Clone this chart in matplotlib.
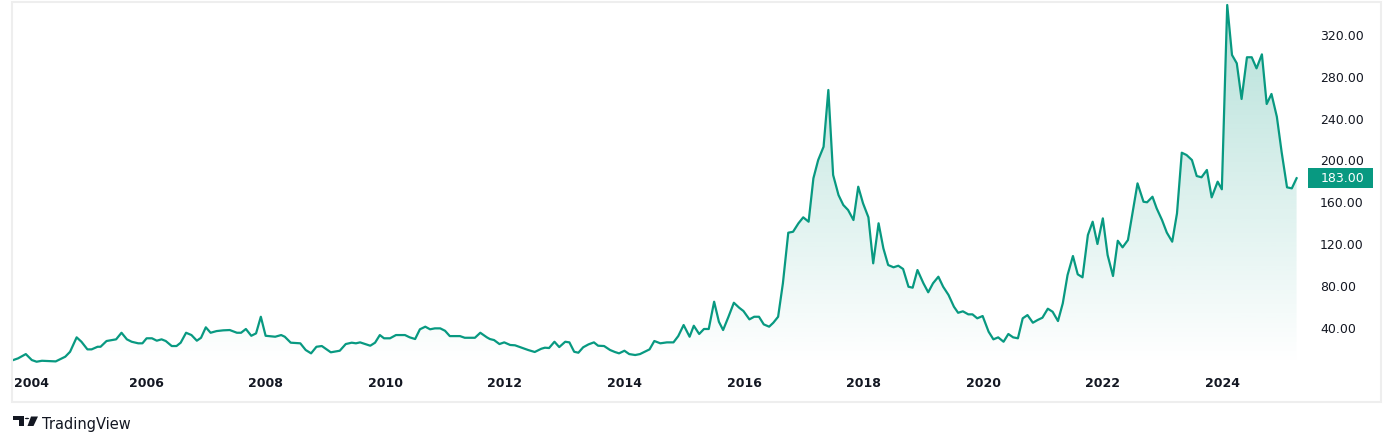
import numpy as np
import matplotlib.pyplot as plt
from matplotlib.patches import Rectangle, Polygon, Circle
from matplotlib.transforms import blended_transform_factory, ScaledTranslation

# price series (decimal year, value)
dates = [
    2003.78, 2003.86, 2003.99, 2004.09, 2004.17, 2004.26, 2004.49, 2004.65, 2004.73, 2004.84,
    2004.92, 2005.02, 2005.09, 2005.19, 2005.24, 2005.34, 2005.50, 2005.59, 2005.68, 2005.76,
    2005.87, 2005.94, 2006.01, 2006.10, 2006.18, 2006.26, 2006.33, 2006.43, 2006.51, 2006.58,
    2006.67, 2006.76, 2006.85, 2006.92, 2007.00, 2007.08, 2007.18, 2007.29, 2007.40, 2007.52,
    2007.59, 2007.67, 2007.76, 2007.84, 2007.92, 2008.00, 2008.16, 2008.26, 2008.32, 2008.42,
    2008.58, 2008.67, 2008.76, 2008.85, 2008.94, 2009.09, 2009.24, 2009.34, 2009.44, 2009.51,
    2009.58, 2009.75, 2009.83, 2009.91, 2009.98, 2010.08, 2010.18, 2010.33, 2010.41, 2010.50,
    2010.58, 2010.67, 2010.75, 2010.83, 2010.92, 2011.00, 2011.08, 2011.25, 2011.33, 2011.50,
    2011.59, 2011.70, 2011.75, 2011.82, 2011.91, 2011.99, 2012.09, 2012.17, 2012.28, 2012.39,
    2012.50, 2012.61, 2012.67, 2012.74, 2012.83, 2012.91, 2013.01, 2013.08, 2013.16, 2013.23,
    2013.31, 2013.40, 2013.49, 2013.56, 2013.66, 2013.76, 2013.84, 2013.91, 2014.00, 2014.08,
    2014.18, 2014.26, 2014.34, 2014.42, 2014.50, 2014.60, 2014.71, 2014.82, 2014.90, 2014.99,
    2015.09, 2015.16, 2015.25, 2015.33, 2015.41, 2015.50, 2015.58, 2015.65, 2015.74, 2015.83,
    2015.92, 2015.99, 2016.09, 2016.17, 2016.25, 2016.33, 2016.42, 2016.49, 2016.57, 2016.65,
    2016.74, 2016.82, 2016.91, 2016.99, 2017.08, 2017.16, 2017.24, 2017.33, 2017.41, 2017.49,
    2017.58, 2017.66, 2017.74, 2017.83, 2017.91, 2017.99, 2018.08, 2018.16, 2018.25, 2018.33,
    2018.41, 2018.50, 2018.58, 2018.66, 2018.75, 2018.82, 2018.90, 2019.00, 2019.08, 2019.16,
    2019.25, 2019.33, 2019.42, 2019.51, 2019.58, 2019.66, 2019.75, 2019.82, 2019.90, 2019.99,
    2020.09, 2020.17, 2020.25, 2020.34, 2020.42, 2020.50, 2020.58, 2020.66, 2020.74, 2020.83,
    2020.91, 2020.99, 2021.08, 2021.16, 2021.25, 2021.33, 2021.41, 2021.50, 2021.58, 2021.66,
    2021.75, 2021.83, 2021.91, 2022.00, 2022.08, 2022.17, 2022.25, 2022.33, 2022.42, 2022.50,
    2022.58, 2022.68, 2022.74, 2022.83, 2022.90, 2022.99, 2023.07, 2023.16, 2023.24, 2023.32,
    2023.40, 2023.49, 2023.57, 2023.65, 2023.74, 2023.82, 2023.92, 2023.99, 2024.08, 2024.16,
    2024.24, 2024.32, 2024.41, 2024.49, 2024.57, 2024.66, 2024.74, 2024.82, 2024.91, 2024.99,
    2025.08, 2025.16, 2025.24,
]
values = [
    9.1, 10.7, 14.8, 9.1, 7.5, 8.4, 7.8, 12.3, 17.0, 30.8,
    26.6, 19.3, 19.3, 21.8, 21.8, 27.3, 28.9, 35.2, 28.9, 26.6,
    25.1, 25.1, 29.9, 29.9, 27.6, 28.9, 27.3, 22.5, 22.5, 25.7,
    35.2, 33.0, 27.6, 30.4, 40.4, 35.2, 36.8, 37.5, 37.8, 35.2,
    35.2, 38.8, 32.3, 34.6, 50.5, 32.3, 31.4, 33.0, 31.4, 25.7,
    25.1, 18.7, 15.5, 21.8, 22.5, 16.5, 18.0, 24.4, 25.7, 25.1,
    26.0, 22.8, 25.7, 33.0, 29.9, 29.9, 33.0, 33.0, 30.8, 29.2,
    38.5, 41.0, 38.5, 39.4, 39.4, 37.1, 32.0, 32.0, 30.4, 30.4,
    35.2, 30.8, 29.2, 28.2, 24.4, 26.0, 23.5, 23.2, 20.9, 18.7,
    16.8, 19.9, 20.9, 20.6, 26.6, 21.5, 26.6, 26.0, 17.0, 16.1,
    21.3, 24.1, 26.0, 22.8, 22.5, 18.7, 16.8, 15.5, 18.0, 14.8,
    13.9, 14.8, 17.0, 19.3, 27.3, 25.1, 26.0, 26.0, 32.0, 42.6,
    31.4, 41.9, 34.0, 38.8, 38.8, 64.9, 45.7, 37.8, 50.5, 63.9,
    59.1, 56.0, 48.0, 50.5, 50.5, 43.2, 41.0, 44.8, 50.5, 82.5,
    130.9, 131.8, 139.9, 145.6, 141.4, 182.9, 200.4, 213.1, 267.4, 186.1,
    166.9, 157.4, 152.6, 143.0, 174.9, 159.0, 145.6, 101.6, 139.9, 116.0,
    100.0, 97.8, 99.3, 96.2, 79.2, 78.3, 95.2, 82.5, 73.9, 82.5,
    88.8, 79.2, 71.3, 60.1, 54.3, 55.7, 52.8, 52.8, 49.0, 51.2,
    36.2, 28.9, 30.8, 26.6, 34.0, 30.8, 29.9, 49.0, 52.1, 44.8,
    47.4, 49.6, 58.2, 55.3, 46.4, 63.3, 90.4, 108.6, 91.1, 88.2,
    128.7, 141.4, 120.1, 144.6, 109.5, 89.5, 123.2, 116.9, 123.9, 151.0,
    178.1, 160.5, 160.0, 165.3, 154.2, 143.0, 131.0, 122.3, 149.4, 207.4,
    205.2, 200.4, 185.1, 183.9, 190.9, 164.7, 179.7, 172.4, 348.7, 300.9,
    292.9, 258.8, 298.7, 298.7, 288.1, 301.5, 254.0, 263.6, 241.8, 208.0,
    174.3, 173.3, 183.0,
]
price_ticks = [40, 80, 120, 160, 200, 240, 280, 320]
year_ticks = [2004, 2006, 2008, 2010, 2012, 2014, 2016, 2018, 2020, 2022, 2024]
last_price = 183.00

GREEN = "#089981"
TEXT = "#131722"
W, H = 1394, 446

fig = plt.figure(figsize=(W / 100, H / 100), dpi=100)
fig.patch.set_facecolor("white")


def px(x, y):
    # pixel position -> figure fraction
    return x / W, 1 - y / H


# outer frame
x0, y0 = px(12, 402)
x1, y1 = px(1381, 2)
fig.add_artist(Rectangle((x0, y0), x1 - x0, y1 - y0, transform=fig.transFigure,
                         fill=False, edgecolor="#eeeeee", linewidth=1.5))

left, bottom = px(12, 366)
right, top = px(1300, 3)
ax = fig.add_axes([left, bottom, right - left, top - bottom])
for s in ax.spines.values():
    s.set_visible(False)

# line + gradient area
ax.plot(dates, values, color=GREEN, linewidth=1.6, solid_joinstyle="round", zorder=3)
poly = ax.fill_between(dates, values, 3.4, facecolor="none", edgecolor="none")
grad = np.zeros((256, 1, 4))
grad[:, 0, 0] = 8 / 255
grad[:, 0, 1] = 153 / 255
grad[:, 0, 2] = 129 / 255
grad[:, 0, 3] = np.linspace(0.30, 0.0, 256)
img = ax.imshow(grad, aspect="auto", extent=[dates[0], dates[-1], 3.4, 350.6],
                origin="upper", zorder=2)
img.set_clip_path(poly.get_paths()[0], transform=ax.transData)
ax.set_xlim(2003.759, 2025.297)
ax.set_ylim(3.4, 350.6)

ax.set_xticks(year_ticks)
ax.set_xticklabels([str(y) for y in year_ticks], fontsize=9, fontweight="bold", color=TEXT)
ax.yaxis.tick_right()
ax.set_yticks(price_ticks)
ax.set_yticklabels(["%.2f" % v for v in price_ticks], fontsize=9, color=TEXT)
ax.tick_params(axis="x", length=0, pad=8)
ax.tick_params(axis="y", length=0, pad=14.5)

# first year label is pushed inside the frame, as in TradingView
first = ax.get_xticklabels()[0]
first.set_transform(first.get_transform() + ScaledTranslation(5 / 100, 0, fig.dpi_scale_trans))

# last value label
tr = blended_transform_factory(ax.transAxes, ax.transData)
ax.add_patch(Rectangle((1.0062, last_price - 9.6), 0.0505, 19.2, transform=tr,
                       facecolor=GREEN, edgecolor="none", clip_on=False, zorder=5))
ax.text(1.0163, last_price, "%.2f" % last_price, transform=tr, color="white",
        fontsize=9, va="center", ha="left", clip_on=False, zorder=6)

# TradingView logo
bx, by = px(13, 420)
ex, ey = px(23.5, 416.5)
fig.add_artist(Rectangle((bx, by), ex - bx, ey - by, transform=fig.transFigure,
                         facecolor=TEXT, edgecolor="none"))
bx, by = px(18.5, 426)
ex, ey = px(23.5, 416.5)
fig.add_artist(Rectangle((bx, by), ex - bx, ey - by, transform=fig.transFigure,
                         facecolor=TEXT, edgecolor="none"))
cx, cy = px(27, 418.5)
fig.add_artist(Circle((cx, cy), 2.2 / W, transform=fig.transFigure,
                      facecolor=TEXT, edgecolor="none"))
fig.add_artist(Polygon([px(31, 416.5), px(38, 416.5), px(33.5, 426), px(27.5, 426)],
                       closed=True, transform=fig.transFigure, facecolor=TEXT, edgecolor="none"))
tx, ty = px(42, 424)
fig.text(tx, ty, "TradingView", fontsize=10.5, color=TEXT, va="center", ha="left")

fig.savefig("out.png", dpi=100)
